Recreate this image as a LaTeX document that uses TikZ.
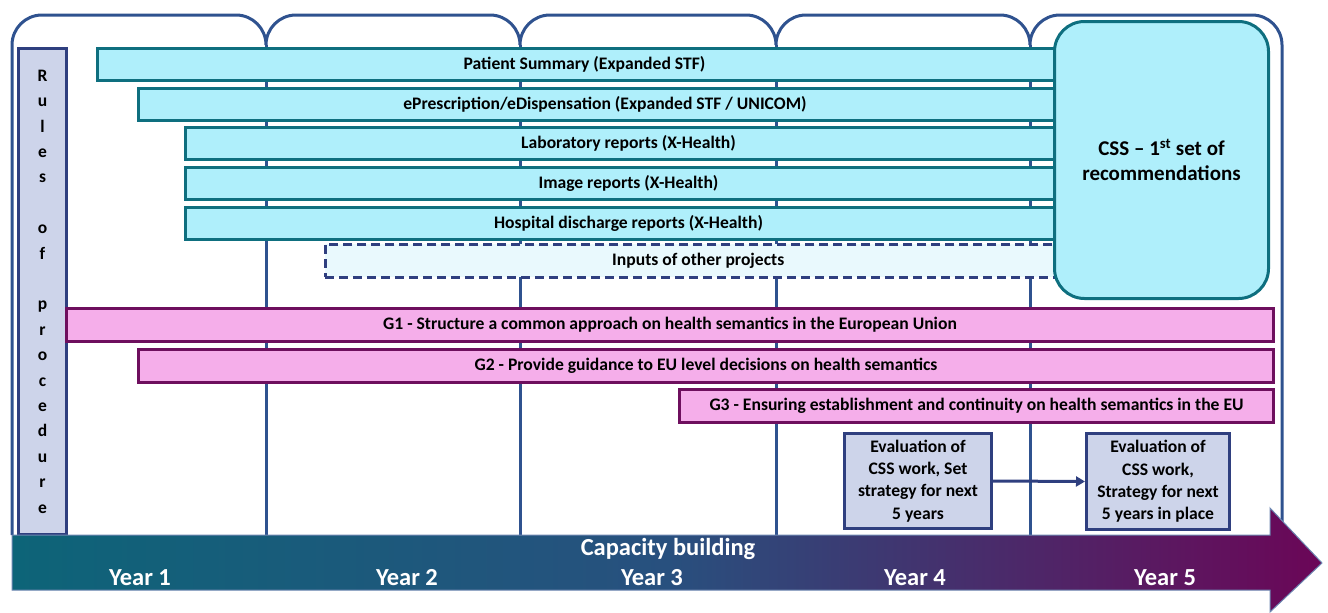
\documentclass[tikz,border=0pt]{standalone}
\usepackage{fontspec}
\setmainfont{Carlito}
\usetikzlibrary{arrows.meta}
\definecolor{frameblue}{HTML}{2F528F}
\definecolor{cyanfill}{HTML}{AFEFFB}
\definecolor{cyanline}{HTML}{0E6F7F}
\definecolor{pinkfill}{HTML}{F5AEEA}
\definecolor{pinkline}{HTML}{6E0F5E}
\definecolor{lavfill}{HTML}{CDD4EA}
\definecolor{lavline}{HTML}{2F3F7F}
\definecolor{inputsfill}{HTML}{E9F9FD}
\definecolor{arrowleft}{HTML}{0D6478}
\definecolor{arrowmid}{HTML}{28507E}
\definecolor{arrowright}{HTML}{6B0657}
\tikzset{
  frame/.style={draw=frameblue, line width=3pt},
  barfont/.style={font=\fontsize{17.6}{20}\selectfont\bfseries},
  cyanbar/.style={draw=cyanline, fill=cyanfill, line width=3pt, rectangle, inner sep=0pt,
    anchor=north west, minimum height=32pt, barfont},
  inputsbar/.style={draw=lavline, fill=inputsfill, line width=2.5pt, dashed, dash pattern=on 9pt off 5pt, rectangle, inner sep=0pt,
    anchor=north west, minimum height=33pt, barfont},
  pinkbar/.style={draw=pinkline, fill=pinkfill, line width=3pt, rectangle, inner sep=0pt,
    anchor=north west, minimum height=33pt, barfont},
  lavbox/.style={draw=lavline, fill=lavfill, line width=3pt, rectangle, inner sep=0pt,
    anchor=north west, align=center, font=\fontsize{17.6}{22.3}\selectfont\bfseries},
  yearlabel/.style={text=white, font=\fontsize{24.5}{28}\selectfont\bfseries},
}
\begin{document}
\begin{tikzpicture}[x=1pt,y=-1pt]
\useasboundingbox (0,0) rectangle (1328,613);
% frame
\draw[frame] (12,535) -- (12,45) .. controls (12,28.4) and (25.4,15) .. (42,15)
  \foreach \a/\b in {266/236,520/490,776/746,1030/1000}{
    -- (\b,15) .. controls (\b+16.6,15) and (\a,28.4) .. (\a,45)
    .. controls (\a,28.4) and (\a+13.4,15) .. (\a+30,15)}
  -- (1252,15) .. controls (1268.6,15) and (1282,28.4) .. (1282,45)
  -- (1282,535);
\foreach \x in {266,520,776,1030} \draw[frame] (\x,45) -- (\x,535);
% rules of procedure
\node[lavbox, minimum width=48pt, minimum height=486pt, font=\fontsize{17.5}{25.4}\selectfont\bfseries] (rules) at (17,47)
  {R\\u\\l\\e\\s\\~\\o\\f\\~\\p\\r\\o\\c\\e\\d\\u\\r\\e};
% cyan bars
\node[cyanbar, minimum width=974pt] (ps) at (96,47) {Patient Summary (Expanded STF)};
\node[cyanbar, minimum width=933pt] (ep) at (137,87) {ePrescription/eDispensation (Expanded STF / UNICOM)};
\node[cyanbar, minimum width=886pt] (lab) at (184,126) {Laboratory reports (X-Health)};
\node[cyanbar, minimum width=886pt] (img) at (184,166) {Image reports (X-Health)};
\node[cyanbar, minimum width=886pt] (hosp) at (184,206) {Hospital discharge reports (X-Health)};
\node[inputsbar, minimum width=746pt] (inp) at (324,243) {Inputs of other projects};
% CSS box
\node[draw=cyanline, fill=cyanfill, line width=3pt, rounded corners=30pt, anchor=north west,
  minimum width=214pt, minimum height=277pt, inner sep=0pt, align=center,
  font=\fontsize{21}{25}\selectfont\bfseries] (css) at (1053,20)
  {CSS -- 1\textsuperscript{st} set of\\recommendations};
% pink bars
\node[pinkbar, minimum width=1207pt] (g1) at (65,307) {G1 - Structure a common approach on health semantics in the European Union};
\node[pinkbar, minimum width=1135pt] (g2) at (137,348) {G2 - Provide guidance to EU level decisions on health semantics};
\node[pinkbar, minimum width=594pt] (g3) at (678,388) {G3 - Ensuring establishment and continuity on health semantics in the EU};
% evaluation boxes
\node[lavbox, minimum width=147pt, minimum height=95pt] (ev1) at (843,432)
  {Evaluation of\\CSS work, Set\\strategy for next\\5 years};
\node[lavbox, minimum width=143pt, minimum height=96pt] (ev2) at (1085,432)
  {Evaluation of\\CSS work,\\Strategy for next\\5 years in place};
\draw[draw=lavline, line width=3pt, -{Triangle[length=9pt,width=10pt]}] (ev1.east) -- (ev2.west);
% big arrow
\shade[left color=arrowleft, right color=arrowright, middle color=arrowmid, draw=frameblue!70, line width=1pt]
  (12,535) -- (1270,535) -- (1270,508) -- (1322,563) -- (1270,612) -- (1270,590) -- (12,590) -- cycle;
\node[yearlabel] (cap) at (668,549) {Capacity building};
\node[yearlabel] (y1) at (140,578) {Year 1};
\node[yearlabel] (y2) at (407,578) {Year 2};
\node[yearlabel] (y3) at (652,578) {Year 3};
\node[yearlabel] (y4) at (915,578) {Year 4};
\node[yearlabel] (y5) at (1165,578) {Year 5};
\end{tikzpicture}
\end{document}
